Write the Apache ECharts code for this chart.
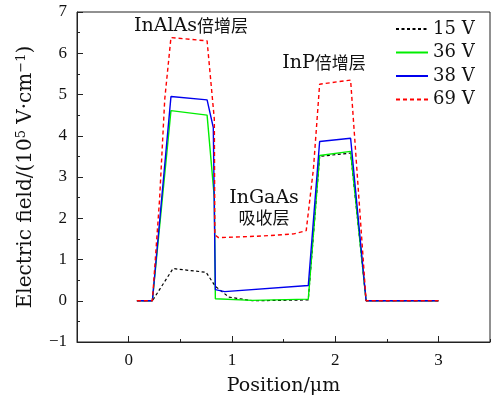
<!DOCTYPE html>
<html><head><meta charset="utf-8">
<script src="https://cdn.jsdelivr.net/npm/echarts@6/dist/echarts.min.js"></script>
<style>html,body{margin:0;padding:0;background:#fff}#c{width:493px;height:401px}</style>
</head><body><div id="c"></div>
<script>
// Data (Position in μm, field in 1e5 V/cm)
const seriesNames = ['15 V', '36 V', '38 V', '69 V'];
const x15 = [0.08, 0.23, 0.43, 0.75, 0.84, 0.97, 1.2, 1.74, 1.85, 2.15, 2.30, 3.0];
const y15 = [0, 0, 0.78, 0.69, 0.35, 0.09, 0.0, 0.02, 3.50, 3.58, 0, 0];
const x36 = [0.08, 0.23, 0.41, 0.76, 0.83, 0.84, 1.2, 1.74, 1.85, 2.15, 2.30, 3.0];
const y36 = [0, 0, 4.61, 4.50, 2.5, 0.05, 0.01, 0.04, 3.52, 3.62, 0, 0];
const x38 = [0.08, 0.23, 0.41, 0.76, 0.82, 0.84, 0.93, 1.74, 1.85, 2.15, 2.30, 3.0];
const y38 = [0, 0, 4.95, 4.87, 4.2, 0.27, 0.22, 0.37, 3.86, 3.94, 0, 0];
const x69 = [0.08, 0.23, 0.30, 0.35, 0.41, 0.76, 0.83, 0.835, 0.87, 1.3, 1.6, 1.72, 1.79, 1.85, 2.15, 2.30, 3.0];
const y69 = [0, 0, 2.47, 4.89, 6.38, 6.30, 4.4, 1.6, 1.53, 1.57, 1.62, 1.70, 3.2, 5.25, 5.35, 0, 0];
const xTicks = [0, 1, 2, 3];
const annotations = [
  { latin: 'InAlAs', cjk: '倍增层', x: 191, y: 26 },
  { latin: 'InP', cjk: '倍增层', x: 324, y: 63 },
  { latin: 'InGaAs', cjk: '', x: 264, y: 198 },
  { latin: '', cjk: '吸收层', x: 264, y: 218 }
];

const pair = (xs, ys) => xs.map((v, i) => [v, ys[i]]);
const FONT = 'DejaVu Serif, Liberation Serif, serif';
const NUM = 'Liberation Serif, DejaVu Serif, serif';
const CJKF = 'Noto Sans CJK SC, sans-serif';

const chart = echarts.init(document.getElementById('c'), null, { renderer: 'canvas' });
const common = { type: 'line', symbol: 'none', smooth: false, animation: false, xAxisIndex: 0, yAxisIndex: 0 };
chart.setOption({
  animation: false,
  grid: { left: 77, right: 2, top: 12, bottom: 58, show: true, borderColor: '#222', borderWidth: 1, backgroundColor: 'transparent' },
  legend: {
    orient: 'vertical', left: 395, top: 20, padding: 0, itemWidth: 32, itemHeight: 14, itemGap: 5.5,
    data: seriesNames,
    itemStyle: { opacity: 0 },
    textStyle: { fontFamily: FONT, fontSize: 18, lineHeight: 18, color: '#111' }
  },
  xAxis: [{
    type: 'value', min: -0.5, max: 3.5, interval: 0.5, position: 'bottom',
    axisLine: { show: true, onZero: false, lineStyle: { color: '#222', width: 1 } },
    axisTick: { show: true, inside: true, length: 3, lineStyle: { color: '#222' } },
    axisLabel: { margin: 10, fontFamily: NUM, fontSize: 17, color: '#111',
      formatter: v => (Number.isInteger(v) && v >= 0 && v <= 3 ? String(v) : '') },
    splitLine: { show: false },
    name: 'Position/μm', nameLocation: 'middle', nameGap: 35,
    nameTextStyle: { fontFamily: FONT, fontSize: 19, color: '#111' }
  }, {
    type: 'value', min: -0.5, max: 3.5, position: 'bottom',
    axisLine: { show: false, onZero: false }, axisLabel: { show: false }, splitLine: { show: false },
    axisTick: { show: true, inside: true, length: 6, customValues: xTicks, lineStyle: { color: '#222' } }
  }],
  yAxis: {
    type: 'value', min: -1, max: 7, interval: 1,
    axisLine: { show: true, onZero: false, lineStyle: { color: '#222', width: 1 } },
    axisTick: { show: true, inside: true, length: 6, lineStyle: { color: '#222' } },
    minorTick: { show: true, splitNumber: 2, length: 3, lineStyle: { color: '#222' } },
    axisLabel: { margin: 10, fontFamily: NUM, fontSize: 17, color: '#111',
      formatter: v => (v < 0 ? '−' + Math.abs(v) : String(v)) },
    splitLine: { show: false },
    name: 'Electric field/(10{s|5} V·cm{s|−1})', nameLocation: 'middle', nameGap: 40, nameRotate: 90,
    nameTextStyle: { fontFamily: FONT, fontSize: 20, color: '#111',
      rich: { s: { fontFamily: FONT, fontSize: 13, verticalAlign: 'top', padding: [0, 0, 9, 0], color: '#111' } } }
  },
  series: [
    Object.assign({ name: seriesNames[0], data: pair(x15, y15), color: '#000', lineStyle: { color: '#000', width: 1.2, type: [3, 2.5] } }, common),
    Object.assign({ name: seriesNames[1], data: pair(x36, y36), color: '#00ee00', lineStyle: { color: '#00ee00', width: 1.4 } }, common),
    Object.assign({ name: seriesNames[2], data: pair(x38, y38), color: '#0000ee', lineStyle: { color: '#0000ee', width: 1.4 } }, common),
    Object.assign({ name: seriesNames[3], data: pair(x69, y69), color: '#ff0000', lineStyle: { color: '#ff0000', width: 1.4, type: [4, 3] } }, common)
  ],
  graphic: annotations.map(a => ({
    type: 'text', x: a.x, y: a.y, z: 10,
    style: {
      text: (a.latin ? '{l|' + a.latin + '}' : '') + (a.cjk ? '{c|' + a.cjk + '}' : ''),
      align: 'center', verticalAlign: 'middle', fill: '#111',
      rich: {
        l: { fontFamily: FONT, fontSize: 19, fill: '#111' },
        c: { fontFamily: CJKF, fontSize: 17, fill: '#111' }
      }
    }
  }))
});
</script></body></html>
